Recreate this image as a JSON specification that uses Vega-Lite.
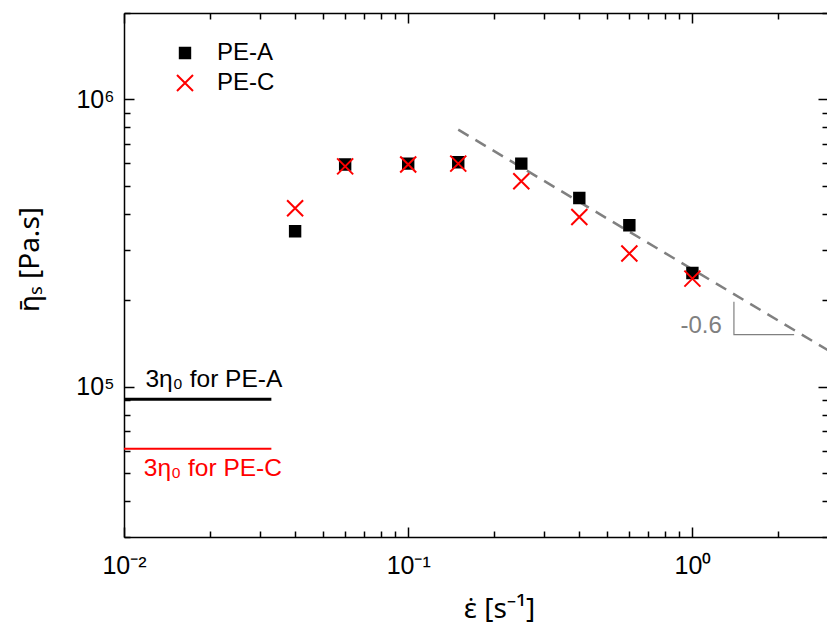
{
  "$schema": "https://vega.github.io/schema/vega-lite/v6.json",
  "width": 704,
  "height": 524,
  "autosize": {"type": "none"},
  "padding": {"left": 124, "top": 13, "right": 0, "bottom": 92},
  "background": "white",
  "config": {
    "view": {"stroke": null},
    "font": "Liberation Sans",
    "axis": {
      "grid": false,
      "domainColor": "black",
      "tickColor": "black",
      "domainWidth": 1.5,
      "tickWidth": 1.5,
      "labelColor": "black",
      "titleColor": "black",
      "labelFont": "Liberation Sans",
      "titleFont": "Noto Sans",
      "labelFontSize": 25,
      "titleFontSize": 28,
      "titleFontWeight": "normal",
      "labelFlush": false,
      "labelOverlap": false
    }
  },
  "resolve": {
    "scale": {"x": "shared", "y": "shared"},
    "axis": {"x": "independent", "y": "independent"}
  },
  "layer": [
    {
      "data": {"values": [{"x": 0.15, "y": 785000}, {"x": 3, "y": 134000}]},
      "mark": {"type": "line", "color": "#808080", "strokeWidth": 2.5, "strokeDash": [12, 8]},
      "encoding": {
        "x": {"field": "x", "type": "quantitative",
          "scale": {"type": "log", "domain": [0.01, 3], "nice": false},
          "axis": {"orient": "bottom", "values": [0.02,0.03,0.04,0.05,0.06,0.07,0.08,0.09,0.2,0.3,0.4,0.5,0.6,0.7,0.8,0.9,2,3], "tickSize": -6, "labels": false, "domain": false, "title": null}},
        "y": {"field": "y", "type": "quantitative",
          "scale": {"type": "log", "domain": [30000, 2000000], "nice": false},
          "axis": {"orient": "left", "values": [30000,40000,50000,60000,70000,80000,90000,200000,300000,400000,500000,600000,700000,800000,900000,2000000], "tickSize": -6, "labels": false, "domain": false, "title": null}}
      }
    },
    {
      "data": {"values": [{"x": 0.01, "x2": 0.033, "y": 90400}]},
      "mark": {"type": "rule", "color": "black", "strokeWidth": 3},
      "encoding": {
        "x": {"field": "x", "type": "quantitative",
          "axis": {"orient": "top", "values": [0.01, 0.1, 1], "tickSize": -10, "labels": false, "domain": true, "title": null}},
        "x2": {"field": "x2"},
        "y": {"field": "y", "type": "quantitative",
          "axis": {"orient": "right", "values": [100000, 1000000], "tickSize": -10, "labels": false, "domain": true, "title": null}}
      }
    },
    {
      "data": {"values": [{"x": 0.01, "x2": 0.033, "y": 60900}]},
      "mark": {"type": "rule", "color": "#ff0000", "strokeWidth": 2},
      "encoding": {
        "x": {"field": "x", "type": "quantitative",
          "axis": {"orient": "top", "values": [0.02,0.03,0.04,0.05,0.06,0.07,0.08,0.09,0.2,0.3,0.4,0.5,0.6,0.7,0.8,0.9,2,3], "tickSize": -6, "labels": false, "domain": false, "title": null}},
        "x2": {"field": "x2"},
        "y": {"field": "y", "type": "quantitative",
          "axis": {"orient": "right", "values": [30000,40000,50000,60000,70000,80000,90000,200000,300000,400000,500000,600000,700000,800000,900000,2000000], "tickSize": -6, "labels": false, "domain": false, "title": null}}
      }
    },
    {
      "data": {"values": [{"x": 1.4, "y": 197500, "i": 0}, {"x": 1.4, "y": 152000, "i": 1}, {"x": 2.28, "y": 152000, "i": 2}]},
      "mark": {"type": "line", "color": "#808080", "strokeWidth": 1.2},
      "encoding": {
        "x": {"field": "x", "type": "quantitative", "axis": null},
        "y": {"field": "y", "type": "quantitative", "axis": null},
        "order": {"field": "i", "type": "quantitative"}
      }
    },
    {
      "data": {"values": [{"label": "3η₀ for PE-A", "x": 0.0119, "y": 100000, "series": "PE-A"}, {"label": "3η₀ for PE-C", "x": 0.01174, "y": 49100, "series": "PE-C"}]},
      "mark": {"type": "text", "align": "left", "baseline": "alphabetic", "fontSize": 24.5, "font": "Liberation Sans"},
      "encoding": {
        "x": {"field": "x", "type": "quantitative", "axis": null},
        "y": {"field": "y", "type": "quantitative", "axis": null},
        "text": {"field": "label"},
        "color": {"condition": {"test": "datum.series === 'PE-C'", "value": "#ff0000"}, "value": "#000000"}
      }
    },
    {
      "data": {"values": [{"label": "-0.6", "x": 1.269, "y": 154500}]},
      "mark": {"type": "text", "align": "right", "baseline": "alphabetic", "fontSize": 24, "font": "Liberation Sans", "color": "#808080"},
      "encoding": {
        "x": {"field": "x", "type": "quantitative", "axis": null},
        "y": {"field": "y", "type": "quantitative", "axis": null},
        "text": {"field": "label"}
      }
    },
    {
      "data": {"values": [
        {"series": "PE-A", "x": 0.04, "y": 348000},
        {"series": "PE-A", "x": 0.06, "y": 594000},
        {"series": "PE-A", "x": 0.1, "y": 598000},
        {"series": "PE-A", "x": 0.15, "y": 605000},
        {"series": "PE-A", "x": 0.25, "y": 598000},
        {"series": "PE-A", "x": 0.4, "y": 454000},
        {"series": "PE-A", "x": 0.6, "y": 365000},
        {"series": "PE-A", "x": 1.0, "y": 249000},
        {"series": "PE-C", "x": 0.04, "y": 418000},
        {"series": "PE-C", "x": 0.06, "y": 585000},
        {"series": "PE-C", "x": 0.1, "y": 594000},
        {"series": "PE-C", "x": 0.15, "y": 598000},
        {"series": "PE-C", "x": 0.25, "y": 519000},
        {"series": "PE-C", "x": 0.4, "y": 390000},
        {"series": "PE-C", "x": 0.6, "y": 291000},
        {"series": "PE-C", "x": 1.0, "y": 238000}
      ]},
      "mark": {"type": "point", "filled": true, "size": 256, "strokeWidth": 2, "opacity": 1},
      "encoding": {
        "x": {"field": "x", "type": "quantitative",
          "axis": {"orient": "bottom", "values": [0.01, 0.1, 1], "tickSize": -10, "labelExpr": "datum.value < 0.05 ? '10⁻²' : datum.value < 0.5 ? '10⁻¹' : '10⁰'", "labelPadding": 46, "labelBaseline": "alphabetic", "title": "ε̇ [s⁻¹]", "titleX": 375, "titleY": 80, "titleBaseline": "alphabetic", "titleAlign": "center"}},
        "y": {"field": "y", "type": "quantitative",
          "axis": {"orient": "left", "values": [100000, 1000000], "tickSize": -10, "labelExpr": "datum.value < 500000 ? '10⁵' : '10⁶'", "labelPadding": 20, "labelBaseline": "middle", "title": "η̄ₛ [Pa.s]", "titleX": -94, "titleY": 246, "titleAngle": -90, "titleBaseline": "middle", "titleAlign": "center"}},
        "fill": {"field": "series", "type": "nominal",
          "scale": {"domain": ["PE-A", "PE-C"], "range": ["#000000", "transparent"]},
          "legend": {"title": null, "orient": "none", "legendX": 49, "legendY": 28, "padding": 0, "symbolSize": 256, "symbolStrokeWidth": 2, "labelFontSize": 24, "labelFont": "Liberation Sans", "labelOffset": 20, "rowPadding": 6, "labelLimit": 0, "encode": {"labels": {"update": {"fill": {"signal": "datum.value === 'PE-C' ? '#ff0000' : '#000000'"}}}}}},
        "stroke": {"field": "series", "type": "nominal",
          "scale": {"domain": ["PE-A", "PE-C"], "range": ["#000000", "#ff0000"]},
          "legend": {"title": null, "orient": "none", "legendX": 49, "legendY": 28, "padding": 0, "symbolSize": 256, "symbolStrokeWidth": 2, "labelFontSize": 24, "labelFont": "Liberation Sans", "labelOffset": 20, "rowPadding": 6, "labelLimit": 0, "encode": {"labels": {"update": {"fill": {"signal": "datum.value === 'PE-C' ? '#ff0000' : '#000000'"}}}}}},
        "shape": {"field": "series", "type": "nominal",
          "scale": {"domain": ["PE-A", "PE-C"], "range": ["M-0.65,-0.65H0.65V0.65H-0.65Z", "M-1,-1L1,1M-1,1L1,-1"]},
          "legend": {"title": null, "orient": "none", "legendX": 49, "legendY": 28, "padding": 0, "symbolSize": 256, "symbolStrokeWidth": 2, "labelFontSize": 24, "labelFont": "Liberation Sans", "labelOffset": 20, "rowPadding": 6, "labelLimit": 0, "encode": {"labels": {"update": {"fill": {"signal": "datum.value === 'PE-C' ? '#ff0000' : '#000000'"}}}}}}
      }
    }
  ]
}
